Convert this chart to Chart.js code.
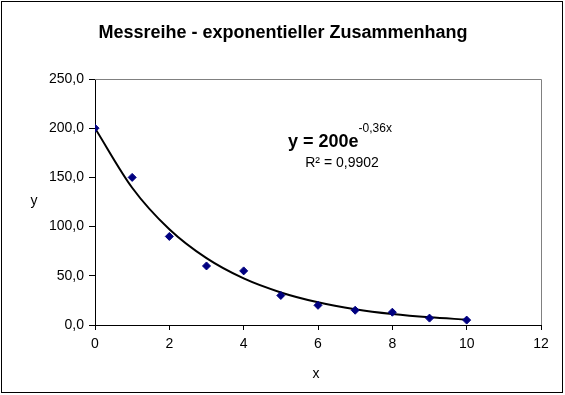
<!DOCTYPE html>
<html lang="de">
<head>
  <meta charset="UTF-8" />
  <title>Messreihe - exponentieller Zusammenhang</title>
  <script src="https://cdn.jsdelivr.net/npm/chart.js"></script>
  <style>
    html, body { margin: 0; padding: 0; background: #fff; }
    #wrap { width: 565px; height: 395px; position: relative; }
  </style>
</head>
<body>
  <div id="wrap"><canvas id="chartCanvas"></canvas></div>

  <script>
    // Messwerte
    const messX = [0, 1, 2, 3, 4, 5, 6, 7, 8, 9, 10];
    const messY = [200, 150, 90, 60, 55, 30, 20, 15, 13, 7, 5];

    // Trendlinie
    const trendX = [0, 1, 2, 3, 4, 5, 6, 7, 8, 9, 10];
    const trendY = [200, 139.5, 97.3, 67.9, 47.3, 33.1, 23.1, 16.1, 11.2, 7.8, 5.5];

    const titel = "Messreihe - exponentieller Zusammenhang";
    const gleichung = "y = 200e";
    const exponent = "-0,36x";
    const bestimmtheit = "R² = 0,9902";

    const schrift = "'Liberation Sans', Arial, sans-serif";

    const textPlugin = {
      id: "texte",
      beforeDraw(chart) {
        const c = chart.ctx;
        c.save();
        c.fillStyle = "#fff";
        c.fillRect(0, 0, chart.width, chart.height);
        c.restore();
      },
      afterDraw(chart) {
        const c = chart.ctx;
        const a = chart.chartArea;
        c.save();
        // Rahmen
        c.strokeStyle = "#000";
        c.lineWidth = 1;
        c.strokeRect(1.5, 1.5, 561, 391);
        // Plotbereich oben/rechts grau
        c.strokeStyle = "#808080";
        c.beginPath();
        c.moveTo(a.left, a.top + 0.5);
        c.lineTo(a.right + 0.5, a.top + 0.5);
        c.lineTo(a.right + 0.5, a.bottom);
        c.stroke();

        c.fillStyle = "#000";
        c.textBaseline = "middle";
        c.textAlign = "center";
        c.font = "bold 18px " + schrift;
        c.fillText(titel, 283, 33);

        c.font = "14px " + schrift;
        c.fillText("x", 316, 374);
        c.fillText("y", 34, 201);

        // Gleichung
        c.textAlign = "left";
        c.textBaseline = "alphabetic";
        c.font = "bold 18px " + schrift;
        const w = c.measureText(gleichung).width;
        c.fillText(gleichung, 288, 147);
        c.font = "12px " + schrift;
        c.fillText(exponent, 288 + w, 132);
        c.textAlign = "center";
        c.textBaseline = "middle";
        c.font = "14px " + schrift;
        c.fillText(bestimmtheit, 342, 163);
        c.restore();
      }
    };

    const ctx = document.getElementById("chartCanvas").getContext("2d");
    new Chart(ctx, {
      type: "scatter",
      data: {
        datasets: [
          {
            label: "Messwerte",
            data: messX.map((x, i) => ({ x: x, y: messY[i] })),
            pointStyle: "rectRot",
            pointRadius: 4,
            backgroundColor: "#000080",
            borderColor: "#000080",
            borderWidth: 1,
            order: 1
          },
          {
            label: "Trend",
            type: "line",
            data: trendX.map((x, i) => ({ x: x, y: trendY[i] })),
            borderColor: "#000",
            borderWidth: 2,
            pointRadius: 0,
            cubicInterpolationMode: "monotone",
            fill: false,
            order: 2
          }
        ]
      },
      options: {
        responsive: true,
        maintainAspectRatio: false,
        animation: false,
        layout: { padding: { left: 0, right: 24, top: 79, bottom: 0 } },
        plugins: {
          legend: { display: false },
          title: { display: false },
          tooltip: { enabled: false }
        },
        scales: {
          x: {
            type: "linear",
            min: 0,
            max: 12,
            ticks: {
              stepSize: 2,
              color: "#000",
              font: { family: schrift, size: 14 },
              padding: 6
            },
            grid: { drawOnChartArea: false, drawTicks: true, tickLength: 5, color: "#000" },
            border: { color: "#000", width: 1 },
            afterFit(s) { s.height = 70; }
          },
          y: {
            min: 0,
            max: 250,
            ticks: {
              stepSize: 50,
              color: "#000",
              font: { family: schrift, size: 14 },
              padding: 5,
              callback: v => v.toFixed(1).replace(".", ",")
            },
            grid: { drawOnChartArea: false, drawTicks: true, tickLength: 6, color: "#000" },
            border: { color: "#000", width: 1 },
            afterFit(s) { s.width = 95; }
          }
        }
      },
      plugins: [textPlugin]
    });
  </script>
</body>
</html>
